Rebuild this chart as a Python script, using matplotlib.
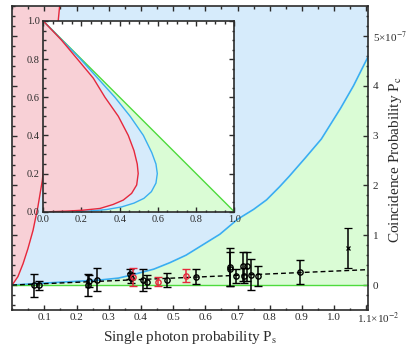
"""Coincidence vs single photon probability with bound regions and an inset."""

import matplotlib
matplotlib.use("Agg")
import matplotlib.pyplot as plt
from matplotlib.ticker import FixedLocator, FixedFormatter, MultipleLocator

plt.rcParams["font.family"] = ["Liberation Serif", "DejaVu Serif"]
plt.rcParams["mathtext.fontset"] = "stix"

PINK = "#f8d0d6"
SKY = "#d6ebfb"
MINT = "#dafcd5"
RED = "#e5283c"
BLUE = "#3aaef0"
GREEN = "#4ddb3c"
INK = "#2b2b2b"

# main panel: Ps in units of 1e-2, Pc in units of 1e-7
red_x = [0.0, 0.018, 0.034, 0.049, 0.065, 0.080, 0.094, 0.1434, 0.152]
red_y = [0.0, 0.17, 0.43, 0.73, 1.10, 1.57, 2.11, 5.32, 5.90]

blue_x = [0.0, 0.10, 0.20, 0.27, 0.33, 0.37, 0.44, 0.49, 0.54, 0.59, 0.645,
          0.70, 0.75, 0.79, 0.83, 0.86, 0.91, 0.96, 1.02, 1.06, 1.105]
blue_y = [0.0, 0.04, 0.075, 0.10, 0.14, 0.20, 0.32, 0.45, 0.60, 0.80, 1.02,
          1.32, 1.52, 1.71, 1.97, 2.18, 2.55, 2.93, 3.55, 4.0, 4.58]

fit_x = [0.0, 1.105]
fit_y = [0.0, 0.31]

black_x = [0.067, 0.084, 0.235, 0.238, 0.262, 0.365, 0.368, 0.407, 0.420,
           0.482, 0.572, 0.676, 0.678, 0.694, 0.716, 0.720, 0.730, 0.742,
           0.764, 0.894]
black_y = [0.0, 0.0, 0.0, 0.08, 0.11, 0.22, 0.14, 0.10, 0.07, 0.10, 0.17,
           0.37, 0.33, 0.19, 0.38, 0.19, 0.38, 0.21, 0.19, 0.26]
black_err = [0.23, 0.09, 0.22, 0.12, 0.23, 0.10, 0.10, 0.22, 0.13, 0.14, 0.15,
             0.38, 0.34, 0.14, 0.29, 0.15, 0.29, 0.31, 0.20, 0.24]

red_pts_x = [0.376, 0.454, 0.539]
red_pts_y = [0.167, 0.067, 0.19]
red_pts_err = [0.18, 0.09, 0.13]

cross_x = [1.044]
cross_y = [0.75]
cross_err = [0.40]

# inset: normalised coordinates
in_red_x = [0.0, 0.095, 0.183, 0.262, 0.323, 0.393, 0.445, 0.475, 0.492, 0.497,
            0.489, 0.4625, 0.419, 0.366, 0.297, 0.209, 0.122, 0.035, 0.0]
in_red_y = [1.0, 0.9, 0.795, 0.7, 0.6, 0.5, 0.4, 0.32, 0.25, 0.2,
            0.14, 0.096, 0.061, 0.038, 0.017, 0.008, 0.003, 0.0, 0.0]
in_blue_x = [0.0, 0.098, 0.195, 0.285, 0.375, 0.455, 0.524, 0.568, 0.590, 0.597,
             0.590, 0.566, 0.527, 0.475, 0.41, 0.33, 0.25, 0.175, 0.0]
in_blue_y = [1.0, 0.9, 0.8, 0.7, 0.6, 0.5, 0.4, 0.31, 0.25, 0.2,
             0.15, 0.105, 0.07, 0.045, 0.025, 0.011, 0.004, 0.0, 0.0]
in_green_x = [0.0, 1.0]
in_green_y = [1.0, 0.0]

XMAX, YMIN, YMAX = 1.105, -0.5, 5.6


def style_axes(ax, size):
    for edge in ax.spines.values():
        edge.set_linewidth(1.2)
        edge.set_color(INK)
    ax.tick_params(which="both", direction="in", top=True, bottom=True,
                   left=True, right=True, color=INK, width=1.0,
                   labelsize=size, labelcolor=INK)
    ax.tick_params(which="major", length=3.6)
    ax.tick_params(which="minor", length=1.8)


fig = plt.figure(figsize=(4.15, 3.54), dpi=100)
ax = fig.add_axes([0.0292, 0.1243, 0.8576, 0.8588])

ax.fill_between(blue_x, 0, blue_y, color=MINT, lw=0)
ax.fill_between(blue_x, blue_y, YMAX, color=SKY, lw=0)
ax.fill_between(red_x, red_y, YMAX, color=PINK, lw=0)
ax.plot(red_x, red_y, color=RED, lw=1.0)
ax.plot(blue_x, blue_y, color=BLUE, lw=1.2)
ax.plot([0, XMAX], [0, 0], color=GREEN, lw=1.0)
ax.plot(fit_x, fit_y, "--", color="black", lw=1.0, dashes=(3.5, 2.2))

ekw = dict(ls="none", elinewidth=1.1, capsize=2.6, capthick=1.1)
ax.errorbar(black_x, black_y, yerr=black_err, fmt="o", color="black",
            mfc="none", ms=3.8, mew=1.0, **ekw)
ax.errorbar(red_pts_x, red_pts_y, yerr=red_pts_err, fmt="o", color=RED,
            mfc="none", ms=3.8, mew=1.0, **ekw)
ax.errorbar(cross_x, cross_y, yerr=cross_err, fmt="x", color="black",
            ms=3.0, mew=0.9, **ekw)

ax.set_xlim(0, XMAX)
ax.set_ylim(YMIN, YMAX)
style_axes(ax, 8)
xt = [0.1, 0.2, 0.3, 0.4, 0.5, 0.6, 0.7, 0.8, 0.9, 1.0, 1.1]
ax.xaxis.set_major_locator(FixedLocator(xt))
ax.xaxis.set_major_formatter(FixedFormatter([f"{v:.1f}" for v in xt[:-1]] + [""]))
ax.xaxis.set_minor_locator(MultipleLocator(0.05))
yt = [0, 1, 2, 3, 4, 5]
ax.yaxis.set_major_locator(FixedLocator(yt))
ax.yaxis.set_major_formatter(FixedFormatter(["0", "1", "2", "3", "4", "5×10$^{-7}$"]))
ax.yaxis.set_minor_locator(MultipleLocator(0.2))
ax.tick_params(axis="x", pad=2.5)
ax.tick_params(axis="y", labelleft=False, labelright=True, pad=3.5)
ax.annotate("1.1×10$^{-2}$", xy=(1.1, 0), xycoords=("data", "axes fraction"),
            xytext=(-6.8, -1.0), textcoords="offset points", ha="left", va="top",
            fontsize=8, color=INK)
ax.set_xlabel("Single photon probability P$_\\mathrm{s}$", fontsize=11, labelpad=5, color=INK)
fig.text(395 / 415, 1 - 160 / 354, "Coincidence Probability P$_\\mathrm{c}$",
         rotation=90, ha="center", va="center", fontsize=11, color=INK)

ins = fig.add_axes([0.1043, 0.402, 0.4602, 0.5387])
ins.set_facecolor("white")
ins.fill([0, 1, 0], [1, 0, 0], color=MINT, lw=0)
ins.fill(in_blue_x, in_blue_y, color=SKY, lw=0)
ins.fill(in_red_x, in_red_y, color=PINK, lw=0)
ins.plot(in_green_x, in_green_y, color=GREEN, lw=1.0)
ins.plot(in_blue_x[:-1], in_blue_y[:-1], color=BLUE, lw=1.0)
ins.plot(in_red_x[:-1], in_red_y[:-1], color=RED, lw=1.0)
ins.set_xlim(0, 1)
ins.set_ylim(0, 1)
style_axes(ins, 7.5)
ins.xaxis.set_major_locator(MultipleLocator(0.2))
ins.yaxis.set_major_locator(MultipleLocator(0.2))
ins.xaxis.set_minor_locator(MultipleLocator(0.05))
ins.yaxis.set_minor_locator(MultipleLocator(0.05))
ins.xaxis.set_major_formatter(plt.FormatStrFormatter("%.1f"))
ins.yaxis.set_major_formatter(plt.FormatStrFormatter("%.1f"))
ins.tick_params(axis="both", pad=2.5)

fig.savefig("out.png", dpi=100, facecolor="white")
